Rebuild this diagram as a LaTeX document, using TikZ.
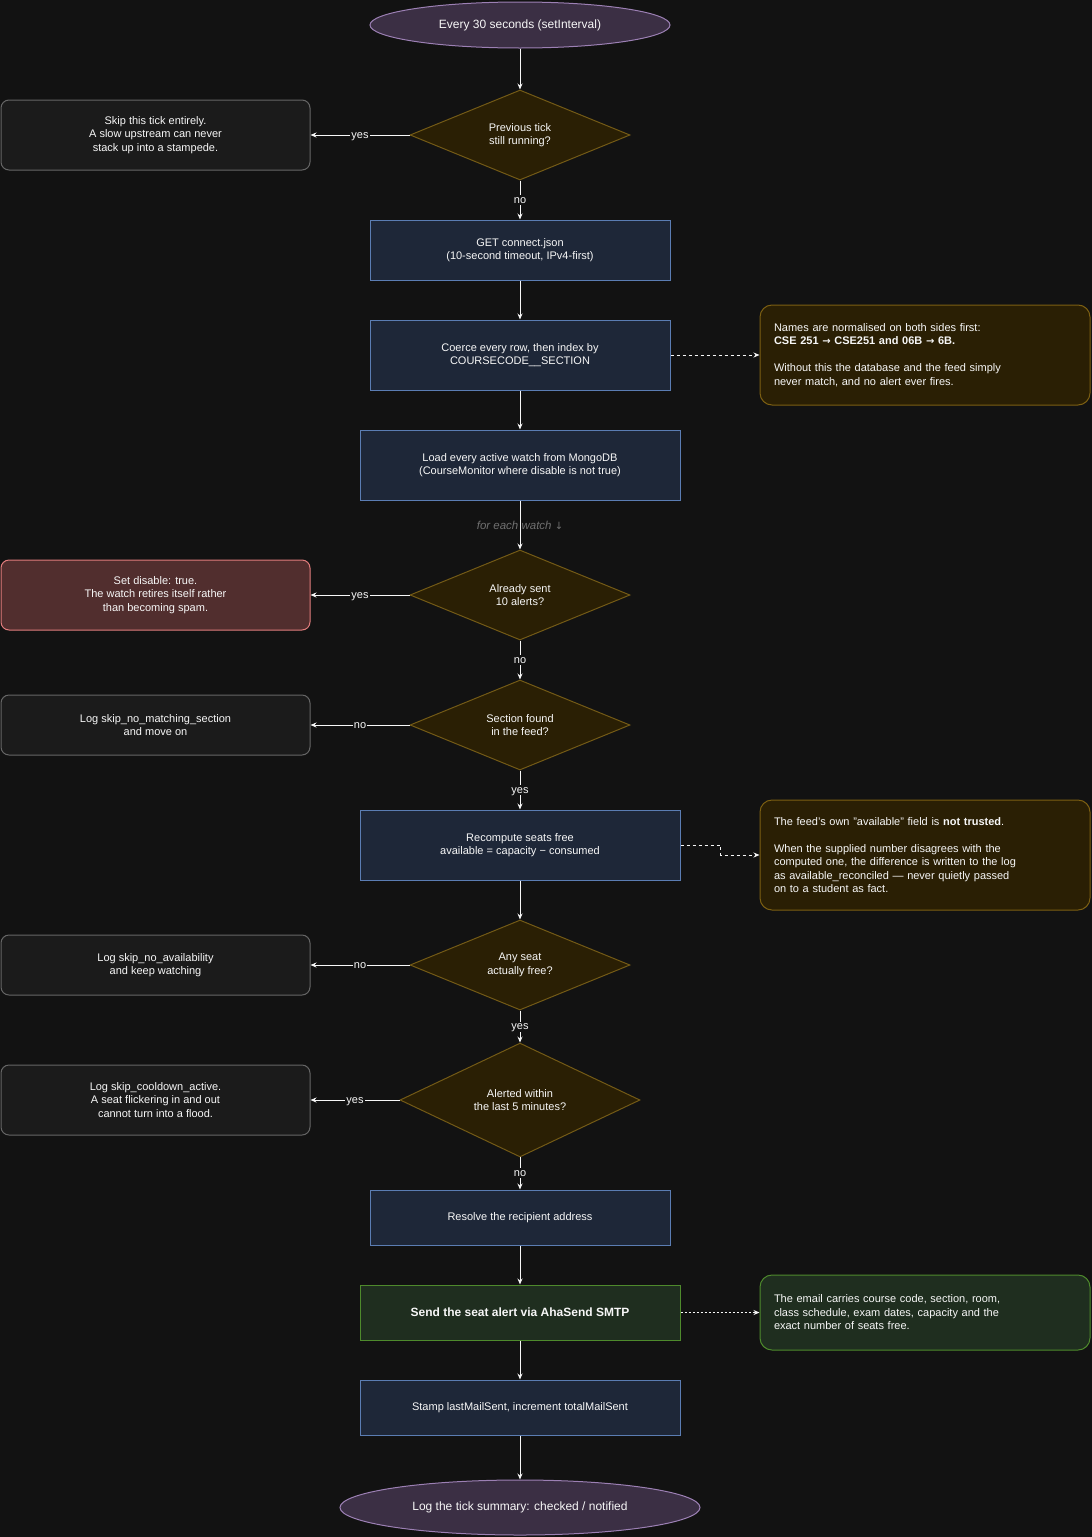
\documentclass[tikz,border=0pt]{standalone}
\usepackage{fontspec}
\setmainfont{Liberation Sans}
\newfontfamily\arrowfont{DejaVu Sans}
\usetikzlibrary{shapes.geometric,arrows.meta}

\definecolor{bgc}{HTML}{121212}
\definecolor{txt}{HTML}{F7F7F7}
\definecolor{procfill}{HTML}{1E2738}
\definecolor{procline}{HTML}{5B7DB3}
\definecolor{decfill}{HTML}{2A1F04}
\definecolor{decline}{HTML}{735A16}
\definecolor{notefill}{HTML}{2A1F04}
\definecolor{noteline}{HTML}{7C5F12}
\definecolor{sidefill}{HTML}{1B1B1B}
\definecolor{sideline}{HTML}{666666}
\definecolor{stopfill}{HTML}{512E2E}
\definecolor{stopline}{HTML}{E07C7C}
\definecolor{termfill}{HTML}{3B2F44}
\definecolor{termline}{HTML}{9C80B4}
\definecolor{mailfill}{HTML}{1F2E1F}
\definecolor{mailline}{HTML}{4E8A2C}
\definecolor{hint}{HTML}{707070}

\newcommand{\arr}{{\arrowfont\fontsize{10}{13.5}\selectfont →}}

\begin{document}
\begin{tikzpicture}[
    x=1pt, y=-1pt,
    every node/.style={
        font=\fontsize{11}{13.5}\selectfont,
        text=txt,
        align=center,
        inner sep=0pt
    },
    term/.style={ellipse, draw=termline, fill=termfill, line width=1pt,
        minimum width=300pt, minimum height=46pt, font=\fontsize{12}{14}\selectfont},
    dec/.style={diamond, draw=decline, fill=decfill, line width=1pt,
        minimum width=220pt, minimum height=90pt},
    proc/.style={rectangle, draw=procline, fill=procfill, line width=1pt,
        minimum width=300pt, minimum height=60pt},
    side/.style={rectangle, rounded corners=8pt, draw=sideline, fill=sidefill,
        line width=1pt, minimum width=309pt, minimum height=70pt},
    note/.style={rectangle, rounded corners=12pt, draw=noteline, fill=notefill,
        line width=1pt, text width=302pt, inner xsep=14pt, align=left,
        minimum height=100pt},
    lbl/.style={fill=bgc, inner sep=1pt, text height=7pt, text depth=1pt},
    flow/.style={draw=txt, line width=1pt, -{Stealth[length=6pt,width=5pt]}},
    link/.style={draw=txt, line width=1pt, dashed, dash pattern=on 3pt off 3pt,
        -{Stealth[length=6pt,width=5pt]}}
]

% background
\fill[bgc] (0,0) rectangle (1092,1537);
\useasboundingbox (0,0) rectangle (1092,1537);

% main column
\node[term] (start) at (520,25) {Every 30 seconds (setInterval)};
\node[dec] (busy) at (520,135) {Previous tick\\still running?};
\node[proc] (fetch) at (520,250) {GET connect.json\\(10-second timeout, IPv4-first)};
\node[proc, minimum height=70pt] (coerce) at (520,355)
    {Coerce every row, then index by\\COURSECODE\_\_SECTION};
\node[proc, minimum width=320pt, minimum height=70pt] (load) at (520,465)
    {Load every active watch from MongoDB\\(CourseMonitor where disable is not true)};
\node[dec] (sent) at (520,595) {Already sent\\10 alerts?};
\node[dec] (found) at (520,725) {Section found\\in the feed?};
\node[proc, minimum width=320pt, minimum height=70pt] (recomp) at (520,845)
    {Recompute seats free\\available = capacity − consumed};
\node[dec] (free) at (520,965) {Any seat\\actually free?};
\node[dec, minimum width=240pt, minimum height=100pt] (cool) at (520,1100)
    {Alerted within\\the last 5 minutes?};
\node[proc, minimum height=55pt] (resolve) at (520,1217.5) {Resolve the recipient address};
\node[proc, minimum width=320pt, minimum height=55pt, fill=mailfill, draw=mailline,
    font=\fontsize{12}{14}\selectfont\bfseries] (send) at (520,1312.5)
    {Send the seat alert via AhaSend SMTP};
\node[proc, minimum width=320pt, minimum height=55pt] (stamp) at (520,1407.5)
    {Stamp lastMailSent, increment totalMailSent};
\node[term, minimum width=360pt, minimum height=55pt] (finish) at (520,1507.5)
    {Log the tick summary: checked / notified};

% side exits
\node[side] (skip) at (155.5,135)
    {Skip this tick entirely.\\A slow upstream can never\\stack up into a stampede.};
\node[side, fill=stopfill, draw=stopline] (retire) at (155.5,595)
    {Set disable: true.\\The watch retires itself rather\\than becoming spam.};
\node[side, minimum height=60pt] (nomatch) at (155.5,725)
    {Log skip\_no\_matching\_section\\and move on};
\node[side, minimum height=60pt] (noavail) at (155.5,965)
    {Log skip\_no\_availability\\and keep watching};
\node[side] (cooldown) at (155.5,1100)
    {Log skip\_cooldown\_active.\\A seat flickering in and out\\cannot turn into a flood.};

% notes
\node[note] (normnote) at (925,355)
    {Names are normalised on both sides first:\\
     \textbf{CSE 251 \arr{} CSE251 and 06B \arr{} 6B.}\\[13.5pt]
     Without this the database and the feed simply\\
     never match, and no alert ever fires.};
\node[note, minimum height=110pt] (trustnote) at (925,855)
    {The feed's own "available" field is \textbf{not trusted}.\\[13.5pt]
     When the supplied number disagrees with the\\
     computed one, the difference is written to the log\\
     as available\_reconciled — never quietly passed\\
     on to a student as fact.};
\node[note, minimum height=75pt, fill=mailfill, draw=mailline] (mailnote) at (925,1312.5)
    {The email carries course code, section, room,\\
     class schedule, exam dates, capacity and the\\
     exact number of seats free.};

% edges
\draw[flow] (start) -- (busy);
\draw[flow] (busy) -- node[lbl] (l1) {yes} (skip);
\draw[flow] (busy) -- node[lbl] (l2) {no} (fetch);
\draw[flow] (fetch) -- (coerce);
\draw[flow] (coerce) -- (load);
\draw[flow] (load) -- node[text=hint, font=\fontsize{11.5}{13}\selectfont\itshape] (each)
    {for each watch {\arrowfont\upshape\fontsize{10}{13}\selectfont ↓}} (sent);
\draw[flow] (sent) -- node[lbl] (l3) {yes} (retire);
\draw[flow] (sent) -- node[lbl] (l4) {no} (found);
\draw[flow] (found) -- node[lbl] (l5) {no} (nomatch);
\draw[flow] (found) -- node[lbl] (l6) {yes} (recomp);
\draw[flow] (recomp) -- (free);
\draw[flow] (free) -- node[lbl] (l7) {no} (noavail);
\draw[flow] (free) -- node[lbl] (l8) {yes} (cool);
\draw[flow] (cool) -- node[lbl] (l9) {yes} (cooldown);
\draw[flow] (cool) -- node[lbl] (l10) {no} (resolve);
\draw[flow] (resolve) -- (send);
\draw[flow] (send) -- (stamp);
\draw[flow] (stamp) -- (finish);

% notes links
\draw[link] (coerce) -- (normnote);
\draw[link] (recomp.east) -- ++(40,0) |- (trustnote.west);
\draw[link, dash pattern=on 2pt off 2pt] (send) -- (mailnote);

\end{tikzpicture}
\end{document}
